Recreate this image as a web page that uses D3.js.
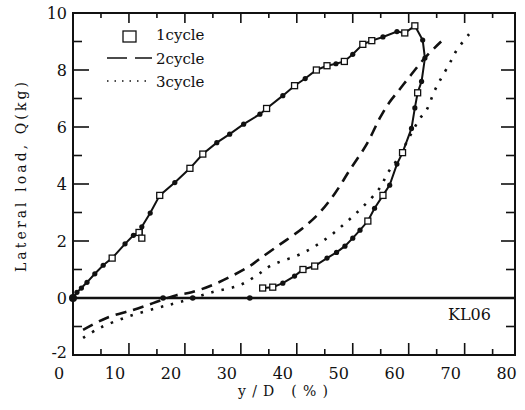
<!DOCTYPE html>
<html>
<head>
  <meta charset="utf-8">
  <title>KL06 hysteresis</title>
  <style>
    body { margin: 0; background: #fff; }
    text { font-family: "DejaVu Serif", "Liberation Serif", serif; fill: #111; }
  </style>
</head>
<body>
  <script src="https://cdn.jsdelivr.net/npm/d3@7/dist/d3.min.js"></script>
  <script>
    var width = 525;
    var height = 410;

    // cycle 1 (solid, markers: s = open square, d = filled dot)
    var c1X = [2.5, 3.2, 4.0, 5.0, 6.4, 7.9, 9.5, 11.8, 13.3, 14.3, 14.8, 14.8, 16.3, 18.0, 20.7, 23.4, 25.7, 28.2, 30.5, 33.0, 35.9, 37.1, 40.0, 42.1, 44.0, 46.0, 47.9, 49.5, 51.0, 52.5, 54.3, 55.9, 57.9, 60.4, 61.8, 63.6, 65.0, 65.4, 64.8, 64.1, 63.6, 63.0, 61.4, 60.4, 59.1, 57.9, 56.4, 55.2, 53.8, 52.5, 51.1, 49.6, 47.9, 45.7, 43.6, 42.1, 40.0, 38.2, 36.4];
    var c1Y = [0, 0.2, 0.35, 0.55, 0.85, 1.15, 1.4, 1.9, 2.2, 2.3, 2.1, 2.5, 2.98, 3.6, 4.05, 4.55, 5.05, 5.45, 5.75, 6.1, 6.45, 6.65, 7.1, 7.45, 7.7, 8.0, 8.15, 8.22, 8.3, 8.55, 8.9, 9.03, 9.16, 9.35, 9.3, 9.55, 9.05, 8.42, 7.6, 7.2, 6.67, 5.95, 5.1, 4.7, 3.96, 3.6, 3.15, 2.7, 2.38, 2.1, 1.82, 1.6, 1.4, 1.12, 1.0, 0.77, 0.52, 0.38, 0.35];
    var c1M = ["d", "d", "d", "d", "d", "d", "s", "d", "d", "s", "s", "d", "d", "s", "d", "s", "s", "d", "d", "d", "d", "s", "d", "s", "d", "s", "s", "d", "s", "d", "s", "s", "d", "d", "s", "s", "d", "d", "d", "s", "d", "d", "s", "d", "d", "s", "d", "s", "d", "d", "d", "d", "d", "s", "s", "d", "d", "s", "s"];

    // points lying on the zero line
    var zeroX = [2.5, 18.6, 23.9, 34.1];

    // cycle 2 (dashed)
    var c2X = [4.3, 8.5, 13.2, 16.8, 21.0, 23.7, 28.2, 34.1, 35.9, 39.5, 43.6, 46.6, 49.3, 52.0, 55.0, 57.3, 59.0, 61.0, 63.0, 65.5, 68.3];
    var c2Y = [-1.12, -0.7, -0.42, -0.18, 0.1, 0.2, 0.52, 1.12, 1.38, 1.88, 2.46, 3.0, 3.67, 4.5, 5.4, 6.3, 6.85, 7.35, 7.85, 8.45, 9.0];

    // cycle 3 (dotted)
    var c3X = [4.3, 7.3, 12.1, 17.5, 21.6, 27.5, 32.3, 35.4, 37.7, 43.6, 47.9, 51.4, 54.3, 57.3, 58.8, 60.6, 62.5, 64.5, 65.7, 67.1, 68.0, 70.0, 71.1, 73.6];
    var c3Y = [-1.4, -1.05, -0.67, -0.35, -0.14, 0.21, 0.45, 0.8, 1.12, 1.58, 2.1, 2.67, 3.2, 3.85, 4.4, 4.9, 5.6, 6.3, 6.6, 7.26, 7.6, 8.3, 8.7, 9.33];

    var xLabels = [0, 10, 20, 30, 40, 50, 60, 70, 80];
    var yLabels = [-2, 0, 2, 4, 6, 8, 10];

    var x = d3.scaleLinear().domain([2.5, 81.5]).range([73, 515]);
    var y = d3.scaleLinear().domain([-2, 10]).range([355, 13]);

    var svg = d3.select("body").append("svg")
      .attr("width", width)
      .attr("height", height);

    // ticks (every 5 along x, starting at the axis origin; every 1 along y)
    var xTicks = d3.range(7.5, 80, 5);
    var yTicks = d3.range(-1, 10, 1);
    var ticks = svg.append("g").attr("stroke", "#111").attr("stroke-width", 1.6);

    xTicks.forEach(function (v, i) {
      var major = i % 2 == 1;
      ticks.append("line")
        .attr("x1", x(v)).attr("x2", x(v))
        .attr("y1", y(-2)).attr("y2", y(-2) - (major ? 12 : 6));
      ticks.append("line")
        .attr("x1", x(v)).attr("x2", x(v))
        .attr("y1", y(10)).attr("y2", y(10) + (major ? 10 : 5));
    });
    yTicks.forEach(function (v) {
      var major = v % 2 == 0;
      ticks.append("line")
        .attr("x1", x(2.5)).attr("x2", x(2.5) + (major ? 16 : 9))
        .attr("y1", y(v)).attr("y2", y(v));
      ticks.append("line")
        .attr("x1", x(81.5)).attr("x2", x(81.5) - (major ? 14 : 9))
        .attr("y1", y(v)).attr("y2", y(v));
    });

    // frame + zero line
    svg.append("rect")
      .attr("x", x(2.5)).attr("y", y(10))
      .attr("width", x(81.5) - x(2.5)).attr("height", y(-2) - y(10))
      .attr("fill", "none").attr("stroke", "#111").attr("stroke-width", 2);
    svg.append("line")
      .attr("x1", x(2.5)).attr("x2", x(81.5))
      .attr("y1", y(0)).attr("y2", y(0))
      .attr("stroke", "#111").attr("stroke-width", 2.4);

    // tick labels
    svg.selectAll(".xl").data(xLabels).enter().append("text")
      .attr("class", "xl")
      .attr("x", function (d) { return x(d); })
      .attr("y", 379)
      .attr("text-anchor", "middle")
      .attr("font-size", 16)
      .text(function (d) { return d; });
    svg.selectAll(".yl").data(yLabels).enter().append("text")
      .attr("class", "yl")
      .attr("x", 67)
      .attr("y", function (d) { return y(d) + (d == -2 ? 3 : 6); })
      .attr("text-anchor", "end")
      .attr("font-size", 16)
      .text(function (d) { return d; });

    // axis titles
    svg.append("text")
      .attr("transform", "translate(26,177) rotate(-90)")
      .attr("text-anchor", "middle")
      .attr("font-size", 14)
      .attr("textLength", 190)
      .attr("lengthAdjust", "spacing")
      .text("Lateral load, Q(kg)");
    svg.append("text")
      .attr("x", 283).attr("y", 396)
      .attr("text-anchor", "middle")
      .attr("font-size", 14)
      .attr("textLength", 90)
      .attr("lengthAdjust", "spacing")
      .text("y/D (%)");
    svg.append("text")
      .attr("x", 448).attr("y", 320)
      .attr("font-size", 16)
      .text("KL06");

    // curves
    var line = d3.line()
      .x(function (d) { return x(d[0]); })
      .y(function (d) { return y(d[1]); })
      .curve(d3.curveCatmullRom);

    var c2 = d3.zip(c2X, c2Y);
    var c3 = d3.zip(c3X, c3Y);
    var c1 = d3.zip(c1X, c1Y);

    svg.append("path").attr("d", line(c2))
      .attr("fill", "none").attr("stroke", "#111")
      .attr("stroke-width", 2.6).attr("stroke-dasharray", "11,7");
    svg.append("path").attr("d", line(c3))
      .attr("fill", "none").attr("stroke", "#111")
      .attr("stroke-width", 2.6).attr("stroke-dasharray", "2.5,8");
    svg.append("path").attr("d", d3.line()
        .x(function (d) { return x(d[0]); })
        .y(function (d) { return y(d[1]); })(c1))
      .attr("fill", "none").attr("stroke", "#111")
      .attr("stroke-width", 2);

    // markers
    c1.forEach(function (d, i) {
      if (c1M[i] == "s") {
        svg.append("rect")
          .attr("x", x(d[0]) - 3).attr("y", y(d[1]) - 3)
          .attr("width", 6).attr("height", 6)
          .attr("fill", "#fff").attr("stroke", "#111").attr("stroke-width", 1.3);
      } else {
        svg.append("circle")
          .attr("cx", x(d[0])).attr("cy", y(d[1])).attr("r", 2.6)
          .attr("fill", "#111");
      }
    });
    zeroX.forEach(function (v) {
      svg.append("circle")
        .attr("cx", x(v)).attr("cy", y(0)).attr("r", v < 3 ? 4 : 2.8)
        .attr("fill", "#111");
    });

    // legend
    var lg = svg.append("g");
    lg.append("rect")
      .attr("x", 123).attr("y", 31).attr("width", 13).attr("height", 11)
      .attr("fill", "#fff").attr("stroke", "#111").attr("stroke-width", 1.3);
    lg.append("line")
      .attr("x1", 107).attr("x2", 152).attr("y1", 58).attr("y2", 58)
      .attr("stroke", "#111").attr("stroke-width", 1.4).attr("stroke-dasharray", "20,8");
    lg.append("line")
      .attr("x1", 107).attr("x2", 152).attr("y1", 81).attr("y2", 81)
      .attr("stroke", "#111").attr("stroke-width", 1.4).attr("stroke-dasharray", "1.5,6");
    ["1cycle", "2cycle", "3cycle"].forEach(function (t, i) {
      lg.append("text")
        .attr("x", 156).attr("y", 40 + i * 23.5)
        .attr("font-size", 15)
        .text(t);
    });
  </script>
</body>
</html>
